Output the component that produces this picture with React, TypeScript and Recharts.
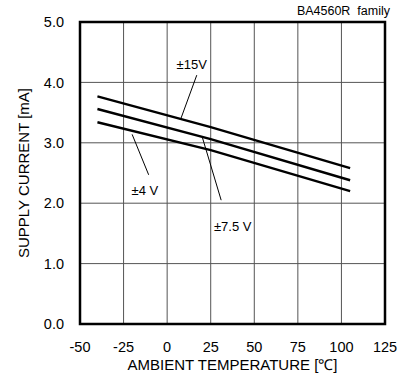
import React from 'react';
import { LineChart, Line, XAxis, YAxis, CartesianGrid, ReferenceArea, ReferenceLine, ReferenceDot } from 'recharts';

const temps = [-40, 25, 105];
const supply15V = [3.77, 3.26, 2.58];
const supply75V = [3.56, 3.06, 2.38];
const supply4V = [3.34, 2.88, 2.2];

const xTicks = [-50, -25, 0, 25, 50, 75, 100, 125];
const yTicks = [0, 1, 2, 3, 4, 5];

const chartData = temps.map((t, i) => ({
  temp: t,
  v15: supply15V[i],
  v75: supply75V[i],
  v4: supply4V[i],
}));

// annotation labels and leader lines (data coords)
const notes = [
  { text: '±15V', tx: 14.1, ty: 4.3, from: [17, 4.12], to: [8, 3.41] },
  { text: '±4 V', tx: -12.8, ty: 2.22, from: [-20.1, 3.14], to: [-10.6, 2.47] },
  { text: '±7.5 V', tx: 37.6, ty: 1.61, from: [20.3, 3.08], to: [31, 2.05] },
];

const font = '"Liberation Sans", Arial, sans-serif';

const App: React.FC = () => {
  return (
    <div style={{ position: 'absolute', left: 0, top: 0, width: 408, height: 376, background: '#fff', fontFamily: font }}>
      <div style={{ position: 'absolute', right: 18, top: 4, fontSize: 12.5, color: '#000', whiteSpace: 'pre' }}>BA4560R  family</div>
      <LineChart width={408} height={376} data={chartData} margin={{ top: 22, right: 23, left: 0, bottom: 0 }}>
        <CartesianGrid stroke="#555" strokeWidth={1} />
        <XAxis
          dataKey="temp"
          type="number"
          domain={[-50, 125]}
          ticks={xTicks}
          height={52}
          tickLine={false}
          axisLine={false}
          tickMargin={12}
          tick={{ fill: '#000', fontSize: 14.5, fontFamily: font }}
          label={{ value: 'AMBIENT TEMPERATURE [℃]', position: 'insideBottom', offset: 6, fill: '#000', fontSize: 15, fontFamily: font }}
        />
        <YAxis
          type="number"
          domain={[0, 5]}
          ticks={yTicks}
          width={80}
          tickLine={false}
          axisLine={false}
          tickMargin={10}
          tickFormatter={(v: number) => v.toFixed(1)}
          tick={{ fill: '#000', fontSize: 14.5, fontFamily: font }}
          label={{ value: 'SUPPLY CURRENT [mA]', angle: -90, position: 'insideLeft', offset: 24, style: { textAnchor: 'middle' }, fill: '#000', fontSize: 15, fontFamily: font }}
        />
        <ReferenceArea x1={-50} x2={125} y1={0} y2={5} fill="none" stroke="#000" strokeWidth={2.5} />
        <Line dataKey="v15" stroke="#000" strokeWidth={2.4} dot={false} isAnimationActive={false} />
        <Line dataKey="v75" stroke="#000" strokeWidth={2.4} dot={false} isAnimationActive={false} />
        <Line dataKey="v4" stroke="#000" strokeWidth={2.4} dot={false} isAnimationActive={false} />
        {notes.map((n) => (
          <ReferenceLine
            key={n.text + 'l'}
            segment={[{ x: n.from[0], y: n.from[1] }, { x: n.to[0], y: n.to[1] }]}
            stroke="#000"
            strokeWidth={1}
          />
        ))}
        {notes.map((n) => (
          <ReferenceDot
            key={n.text}
            x={n.tx}
            y={n.ty}
            r={1}
            fill="none"
            stroke="none"
            label={{ value: n.text, position: 'center', fill: '#000', fontSize: 13, fontFamily: font }}
          />
        ))}
      </LineChart>
    </div>
  );
};

export default App;
